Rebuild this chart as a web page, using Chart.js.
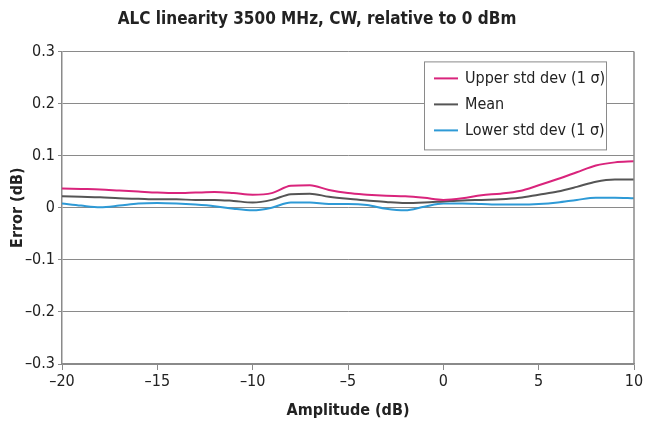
<!DOCTYPE html>
<html>
<head>
<meta charset="utf-8">
<script src="https://cdn.jsdelivr.net/npm/chart.js@4.4.0/dist/chart.umd.min.js"></script>
<style>
  html, body { margin: 0; padding: 0; background: #fff; }
  #wrap { width: 661px; height: 429px; }
</style>
</head>
<body>
<div id="wrap"><canvas id="alc-chart" width="661" height="429"></canvas></div>
<script>
const amplitude = [-20, -19, -18, -17, -16, -15, -14, -13, -12, -11, -10, -9, -8, -7, -6, -5, -4, -3, -2, -1, 0, 1, 2, 3, 4, 5, 6, 7, 8, 9, 10];
const upperStd = [0.037, 0.036, 0.035, 0.033, 0.031, 0.029, 0.028, 0.029, 0.030, 0.028, 0.025, 0.028, 0.042, 0.043, 0.034, 0.028, 0.025, 0.023, 0.022, 0.019, 0.015, 0.018, 0.024, 0.027, 0.032, 0.043, 0.055, 0.068, 0.081, 0.087, 0.089];
const meanErr = [0.022, 0.021, 0.020, 0.018, 0.017, 0.016, 0.016, 0.015, 0.015, 0.013, 0.010, 0.015, 0.026, 0.027, 0.021, 0.017, 0.014, 0.011, 0.009, 0.010, 0.012, 0.014, 0.015, 0.016, 0.019, 0.025, 0.031, 0.040, 0.050, 0.054, 0.054];
const lowerStd = [0.008, 0.004, 0.001, 0.004, 0.008, 0.009, 0.008, 0.006, 0.003, -0.002, -0.005, 0.000, 0.010, 0.010, 0.007, 0.007, 0.005, -0.002, -0.005, 0.002, 0.008, 0.008, 0.007, 0.006, 0.006, 0.007, 0.010, 0.015, 0.019, 0.019, 0.018];
const seriesLabels = ['Upper std dev (1 \u03c3)', 'Mean', 'Lower std dev (1 \u03c3)'];
const xTicks = [-20, -15, -10, -5, 0, 5, 10];
const yTicks = [-0.3, -0.2, -0.1, 0, 0.1, 0.2, 0.3];

const FONT = "'Liberation Sans Narrow', 'DejaVu Sans Condensed', sans-serif";
const minus = v => (v < 0 ? '\u2013' + Math.abs(v) : String(v));

function toPoints(ys) {
    return amplitude.map((x, i) => ({ x, y: ys[i] }));
}

// legend box drawn inside the plot, top right
const boxLegend = {
    id: 'boxLegend',
    afterDraw(chart) {
        const ctx = chart.ctx;
        const area = chart.chartArea;
        const w = 182, h = 88;
        const x0 = area.right - 210, y0 = area.top + 10;
        ctx.save();
        ctx.fillStyle = '#fff';
        ctx.fillRect(x0, y0, w, h);
        ctx.strokeStyle = '#8a8a8a';
        ctx.lineWidth = 1;
        ctx.strokeRect(x0 + 0.5, y0 + 0.5, w, h);
        ctx.font = '16px ' + FONT;
        ctx.textBaseline = 'middle';
        chart.data.datasets.forEach((ds, i) => {
            const cy = y0 + 17 + i * 26;
            ctx.strokeStyle = ds.borderColor;
            ctx.lineWidth = 2;
            ctx.beginPath();
            ctx.moveTo(x0 + 10, cy);
            ctx.lineTo(x0 + 34, cy);
            ctx.stroke();
            ctx.fillStyle = '#222';
            ctx.fillText(ds.label, x0 + 41, cy);
        });
        // right frame line
        ctx.strokeStyle = '#8a8a8a';
        ctx.lineWidth = 1.5;
        ctx.beginPath();
        ctx.moveTo(area.right, area.top);
        ctx.lineTo(area.right, area.bottom);
        ctx.stroke();
        ctx.restore();
    }
};

new Chart(document.getElementById('alc-chart'), {
    type: 'line',
    data: {
        datasets: [
            { label: seriesLabels[0], data: toPoints(upperStd), borderColor: '#d9247c' },
            { label: seriesLabels[1], data: toPoints(meanErr), borderColor: '#555555' },
            { label: seriesLabels[2], data: toPoints(lowerStd), borderColor: '#2e9ad6' }
        ].map(d => Object.assign(d, { borderWidth: 2, pointRadius: 0, tension: 0.4, cubicInterpolationMode: 'monotone', fill: false }))
    },
    options: {
        responsive: false,
        animation: false,
        layout: { padding: { left: 0, right: 27, top: 0, bottom: 0 } },
        plugins: {
            legend: { display: false },
            tooltip: { enabled: false },
            title: {
                display: true,
                text: 'ALC linearity 3500 MHz, CW, relative to 0 dBm',
                color: '#222',
                font: { family: FONT, size: 17, weight: 'bold' },
                padding: { top: 9, bottom: 22 }
            }
        },
        scales: {
            x: {
                type: 'linear',
                min: -20,
                max: 10,
                afterBuildTicks: s => { s.ticks = xTicks.map(v => ({ value: v })); },
                afterFit: s => { s.height = 65; },
                ticks: {
                    color: '#222',
                    font: { family: FONT, size: 16 },
                    padding: 2,
                    maxRotation: 0,
                    callback: v => minus(v)
                },
                grid: { drawOnChartArea: false, drawTicks: true, tickLength: 6, color: '#8a8a8a' },
                border: { display: true, color: '#8a8a8a', width: 1.5 },
                title: {
                    display: true,
                    text: 'Amplitude (dB)',
                    color: '#222',
                    font: { family: FONT, size: 16, weight: 'bold' },
                    padding: { top: 0, bottom: 9 }
                }
            },
            y: {
                min: -0.3,
                max: 0.3,
                afterBuildTicks: s => { s.ticks = yTicks.map(v => ({ value: v })); },
                afterFit: s => { s.width = 62; },
                ticks: {
                    color: '#222',
                    font: { family: FONT, size: 16 },
                    padding: 3,
                    callback: v => minus(Math.round(v * 10) / 10)
                },
                grid: { color: '#8a8a8a', lineWidth: 1, tickLength: 4 },
                border: { display: true, color: '#8a8a8a', width: 1.5 },
                title: {
                    display: true,
                    text: 'Error (dB)',
                    color: '#222',
                    font: { family: FONT, size: 16, weight: 'bold' },
                    padding: { top: 8, bottom: 0 }
                }
            }
        }
    },
    plugins: [boxLegend]
});
</script>
</body>
</html>
